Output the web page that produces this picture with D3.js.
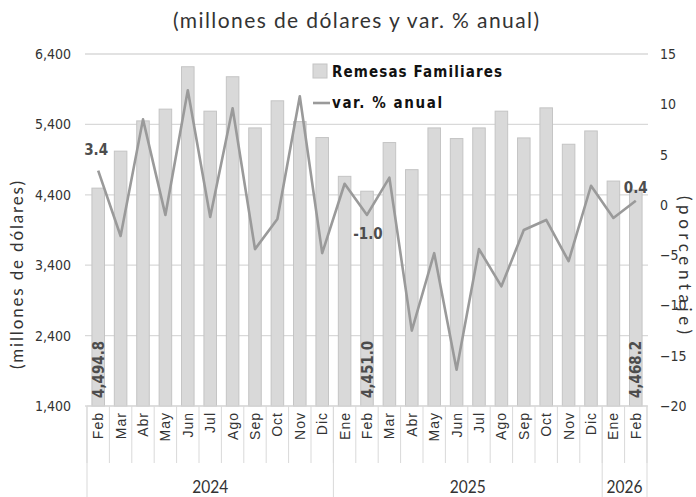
<!DOCTYPE html>
<html><head><meta charset="utf-8">
<script src="https://cdn.jsdelivr.net/npm/d3@7"></script>
<style>
html,body{margin:0;padding:0;background:#fff;}
svg{display:block;}
</style></head>
<body>
<svg id="chart" width="696" height="497"></svg>
<script>
const months = ["Feb","Mar","Abr","May","Jun","Jul","Ago","Sep","Oct","Nov","Dic",
  "Ene","Feb","Mar","Abr","May","Jun","Jul","Ago","Sep","Oct","Nov","Dic",
  "Ene","Feb"];
const years = [{label:"2024", count:11},{label:"2025", count:12},{label:"2026", count:2}];
const remesas = [4494.8,5020,5450,5617,6219,5588,6077,5350,5735,5440,5213,
  4662,4451.0,5142,4757,5350,5199,5350,5588,5208,5635,5118,5307,
  4595,4468.2];
const variacion = [3.4,-3.1,8.5,-1.0,11.4,-1.2,9.6,-4.4,-1.4,10.8,-4.8,
  2.1,-1.0,2.7,-12.5,-4.8,-16.4,-4.4,-8.1,-2.5,-1.5,-5.6,1.9,
  -1.3,0.4];
const leftTicks = [1400,2400,3400,4400,5400,6400];
const rightTicks = [-20,-15,-10,-5,0,5,10,15];
const barLabelIdx = [0,12,24];
const lineLabels = [{i:0,text:"3.4"},{i:12,text:"-1.0"},{i:24,text:"0.4"}];

const svg = d3.select("#chart");
const L = 87, R = 647, T = 54, B = 406;
const x = d3.scaleBand().domain(d3.range(months.length)).range([L,R]).paddingInner(0.44).paddingOuter(0.22);
const yL = d3.scaleLinear().domain([1400,6400]).range([B,T]);
const yR = d3.scaleLinear().domain([-20,15]).range([B,T]);
const step = x.step();
const cx = i => x(i) + x.bandwidth()/2;

// title
svg.append("text").attr("x",356).attr("y",28).attr("text-anchor","middle")
  .attr("font-family","Lato, 'DejaVu Sans', sans-serif").attr("font-size",21).attr("font-weight",400)
  .attr("fill","#333").attr("textLength",366).attr("lengthAdjust","spacing")
  .text("(millones de dólares y var. % anual)");

// gridlines
svg.append("g").selectAll("line").data(leftTicks).join("line")
  .attr("x1",L-2).attr("x2",R+1).attr("y1",d=>yL(d)).attr("y2",d=>yL(d))
  .attr("stroke","#d9d9d9").attr("stroke-width",1.3);

// left axis labels
const axL = d3.axisLeft(yL).tickValues(leftTicks).tickFormat(d3.format(",")).tickSize(0).tickPadding(0);
const gL = svg.append("g").attr("transform",`translate(71,0)`).call(axL);
gL.select(".domain").remove();
gL.selectAll("text").attr("font-family","'Liberation Sans Narrow','DejaVu Sans Condensed',sans-serif")
  .attr("font-size",14).attr("fill","#333");

// right axis labels
const axR = d3.axisRight(yR).tickValues(rightTicks).tickSize(0).tickPadding(0);
const gR = svg.append("g").attr("transform",`translate(660,0)`).call(axR);
gR.select(".domain").remove();
gR.selectAll("text").attr("font-family","'Liberation Sans Narrow','DejaVu Sans Condensed',sans-serif")
  .attr("font-size",14).attr("fill","#333");

// axis titles
svg.append("text").attr("transform","translate(23,275) rotate(-90)").attr("text-anchor","middle")
  .attr("font-family","Lato, 'DejaVu Sans', sans-serif").attr("font-size",17).attr("font-weight",400).attr("fill","#333")
  .attr("textLength",188).attr("lengthAdjust","spacing")
  .text("(millones de dólares)");
svg.append("text").attr("transform","translate(679,265) rotate(90)").attr("text-anchor","middle")
  .attr("font-family","Lato, 'DejaVu Sans', sans-serif").attr("font-size",17).attr("font-weight",400).attr("fill","#333")
  .attr("textLength",138).attr("lengthAdjust","spacing")
  .text("(porcentaje)");

// bars
svg.append("g").selectAll("rect").data(remesas).join("rect")
  .attr("x",(d,i)=>x(i)).attr("width",x.bandwidth())
  .attr("y",d=>yL(d)).attr("height",d=>B-yL(d))
  .attr("fill","#d9d9d9").attr("stroke","#c4c4c4").attr("stroke-width",1);

// bar labels
svg.append("g").selectAll("text").data(barLabelIdx).join("text")
  .attr("transform",i=>`translate(${cx(i)+5.5},${B-8}) rotate(-90)`)
  .attr("font-family","'DejaVu Sans Condensed','DejaVu Sans',sans-serif").attr("font-weight","bold")
  .attr("font-size",15).attr("fill","#4d4d4d")
  .text(i=>d3.format(",.1f")(remesas[i]));

// line
const line = d3.line().x((d,i)=>cx(i)).y(d=>yR(d));
svg.append("path").datum(variacion).attr("d",line).attr("fill","none")
  .attr("stroke","#9a9a9a").attr("stroke-width",2.6).attr("stroke-linejoin","round");

// line labels
const llPos = {0:[-2,-16], 12:[1,24], 24:[0,-8]};
svg.append("g").selectAll("text").data(lineLabels).join("text")
  .attr("x",d=>cx(d.i)+llPos[d.i][0]).attr("y",d=>yR(variacion[d.i])+llPos[d.i][1])
  .attr("text-anchor","middle")
  .attr("font-family","'DejaVu Sans Condensed','DejaVu Sans',sans-serif").attr("font-weight","bold")
  .attr("font-size",15).attr("fill","#4d4d4d")
  .text(d=>d.text);

// x axis category lines
const gx = svg.append("g");
const sepColor = "#d9d9d9";
d3.range(months.length+1).forEach(k=>{
  const xx = L + k*step;
  gx.append("line").attr("x1",xx).attr("x2",xx).attr("y1",B).attr("y2",463)
    .attr("stroke",sepColor).attr("stroke-width",1);
});
let acc = 0;
[0].concat(years.map(y=>acc+=y.count)).forEach(k=>{
  const xx = L + k*step;
  gx.append("line").attr("x1",xx).attr("x2",xx).attr("y1",B).attr("y2",497)
    .attr("stroke",sepColor).attr("stroke-width",1);
});
gx.append("line").attr("x1",L).attr("x2",R).attr("y1",B).attr("y2",B).attr("stroke",sepColor);

// month labels
gx.selectAll("text.m").data(months).join("text").attr("class","m")
  .attr("transform",(d,i)=>`translate(${L+(i+0.5)*step+5},${412}) rotate(-90)`)
  .attr("text-anchor","end")
  .attr("font-family","'Liberation Sans',Arial,sans-serif").attr("font-size",14).attr("fill","#333")
  .attr("letter-spacing",1)
  .text(d=>d);

// year labels
let start = 0;
years.forEach(y=>{
  const mid = L + (start + y.count/2)*step;
  gx.append("text").attr("x",mid).attr("y",493).attr("text-anchor","middle")
    .attr("font-family","Lato, 'DejaVu Sans', sans-serif").attr("font-weight",400)
    .attr("font-size",17).attr("fill","#333")
    .attr("textLength",36).attr("lengthAdjust","spacingAndGlyphs").text(y.label);
  start += y.count;
});

// legend
const lg = svg.append("g");
lg.append("rect").attr("x",313).attr("y",64).attr("width",14).attr("height",14)
  .attr("fill","#d9d9d9").attr("stroke","#c4c4c4");
lg.append("text").attr("x",332).attr("y",77)
  .attr("font-family","'DejaVu Sans Condensed','DejaVu Sans',sans-serif").attr("font-weight","bold")
  .attr("font-size",15).attr("fill","#111").attr("textLength",170).text("Remesas Familiares");
lg.append("line").attr("x1",313).attr("x2",330).attr("y1",103).attr("y2",103)
  .attr("stroke","#9a9a9a").attr("stroke-width",2.6);
lg.append("text").attr("x",332).attr("y",108)
  .attr("font-family","'DejaVu Sans Condensed','DejaVu Sans',sans-serif").attr("font-weight","bold")
  .attr("font-size",15).attr("fill","#111").attr("textLength",110).text("var. % anual");
</script>
</body></html>
